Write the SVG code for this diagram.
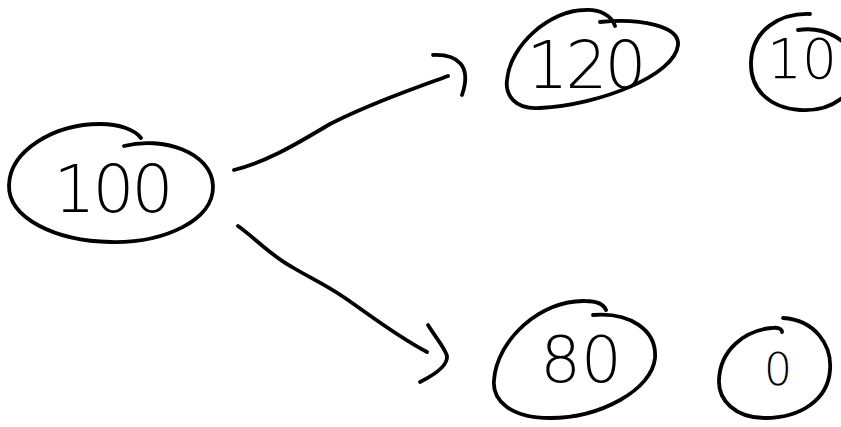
<svg xmlns="http://www.w3.org/2000/svg" width="841" height="427" viewBox="0 0 841 427">
<style>
.ink{fill:none;stroke:#000;stroke-width:3.8;stroke-linecap:round;stroke-linejoin:round}
.lbl{font-family:"DejaVu Sans","Liberation Sans",sans-serif;font-weight:200;fill:#000;text-anchor:middle}
</style>
<rect width="841" height="427" fill="#fff"/>
<g id="connectors">
<path class="ink" d="M234,170 C265,162 290,148 330,124 C370,104 410,90 448,76"/>
<path class="ink" d="M433,55 C458,54 472,66 462,95"/>
<path class="ink" d="M238,226 C255,238 270,255 292,267 C310,278 325,284 345,298 C370,315 395,335 427,352"/>
<path class="ink" d="M428,325 C436,338 445,348 447,356 C448,366 432,376 420,382"/>
</g>
<g id="node-100">
<path class="ink" d="M124,146 C162,136 212,152 213,186 C214,220 165,243 111,242 C55,241 8,218 9,185 C10,150 55,124 100,124 C120,124 135,130 141,138"/>
<text class="lbl" x="112" y="212" font-size="66" letter-spacing="-3">100</text>
</g>
<g id="node-120">
<path class="ink" d="M600,22 C640,18 680,26 678,45 C675,75 600,105 540,108 C515,110 505,95 507,80 C510,45 550,10 585,10 C600,9 612,16 615,26"/>
<text class="lbl" x="585" y="88" font-size="66" letter-spacing="-3">120</text>
</g>
<g id="node-10">
<path class="ink" d="M798,30 C825,26 850,40 855,62 C860,95 830,112 800,110 C770,108 750,90 751,62 C752,30 780,13 810,14"/>
<text class="lbl" x="802" y="78" font-size="55">10</text>
</g>
<g id="node-80">
<path class="ink" d="M593,315 C630,312 657,330 655,358 C652,390 600,418 550,418 C510,418 492,400 494,380 C497,340 540,300 585,301 C597,301 604,305 606,310"/>
<text class="lbl" x="581" y="382" font-size="64">80</text>
</g>
<g id="node-0">
<path class="ink" d="M783,318 C815,320 832,345 830,370 C828,400 800,418 765,418 C735,418 718,400 719,380 C720,350 745,330 772,328 C778,327 782,329 782,332"/>
<text class="lbl" x="778" y="385" font-size="44">0</text>
</g>
</svg>
